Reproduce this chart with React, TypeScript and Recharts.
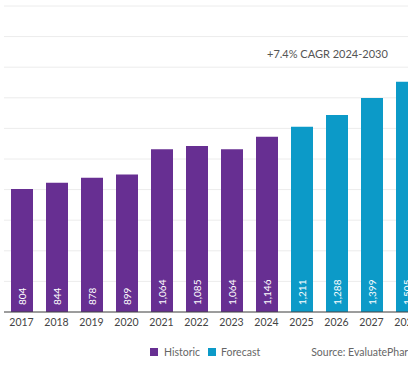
import { Bar, BarChart, CartesianGrid, LabelList, XAxis, YAxis } from "recharts";

// market size by year, historic then forecast
const years = ["2017", "2018", "2019", "2020", "2021", "2022", "2023", "2024", "2025", "2026", "2027", "2028"];
const historic = [804, 844, 878, 899, 1064, 1085, 1064, 1146, null, null, null, null];
const forecast = [null, null, null, null, null, null, null, null, 1211, 1288, 1399, 1505];
const yTicks = [0, 200, 400, 600, 800, 1000, 1200, 1400, 1600, 1800];

const PURPLE = "#672f92";
const BLUE = "#0c9ac8";
const FONT = "Lato, 'Noto Sans', sans-serif";

const data = years.map((year, i) => ({ year, historic: historic[i], forecast: forecast[i] }));

const fmt = (v: number) => v.toLocaleString("en-US");

function BarValue(props: any) {
  const { x, y, width, height, value } = props;
  if (value == null) return null;
  const cx = Number(x) + Number(width) / 2;
  const by = Number(y) + Number(height) - 7;
  return (
    <text
      x={cx}
      y={by}
      transform={`rotate(-90 ${cx} ${by})`}
      textAnchor="start"
      dominantBaseline="central"
      fill="#ffffff"
      fontSize={10}
      fontFamily={FONT}
    >
      {fmt(value)}
    </text>
  );
}

export default function App() {
  return (
    <div
      style={{
        position: "fixed",
        left: 0,
        top: 0,
        width: 408,
        height: 379,
        overflow: "hidden",
        background: "#fff",
        fontFamily: FONT,
      }}
    >
      <div style={{ position: "absolute", left: -10, top: 0 }}>
        <BarChart
          width={442}
          height={379}
          data={data}
          margin={{ top: 6, right: 8, left: 14, bottom: 37 }}
          barSize={22}
        >
          <CartesianGrid vertical={false} stroke="#ececec" />
          <YAxis hide domain={[0, 2000]} ticks={yTicks} width={0} />
          <XAxis
            dataKey="year"
            height={30}
            tickLine={false}
            tickSize={0}
            tickMargin={7}
            axisLine={{ stroke: "#444" }}
            tick={{ fill: "#444", fontSize: 10.5, fontFamily: FONT }}
            interval={0}
          />
          <Bar dataKey="historic" name="Historic" stackId="a" fill={PURPLE} isAnimationActive={false}>
            <LabelList dataKey="historic" content={BarValue} />
          </Bar>
          <Bar dataKey="forecast" name="Forecast" stackId="a" fill={BLUE} isAnimationActive={false}>
            <LabelList dataKey="forecast" content={BarValue} />
          </Bar>
        </BarChart>
      </div>

      <div
        style={{
          position: "absolute",
          left: 267,
          top: 47,
          fontSize: 11,
          color: "#555",
          whiteSpace: "nowrap",
        }}
      >
        +7.4% CAGR 2024-2030
      </div>

      <div
        style={{
          position: "absolute",
          left: 150,
          top: 346,
          display: "flex",
          alignItems: "center",
          fontSize: 10.5,
          color: "#666",
          whiteSpace: "nowrap",
        }}
      >
        <span style={{ width: 8, height: 8, background: PURPLE, marginRight: 6 }} />
        <span style={{ marginRight: 8 }}>Historic</span>
        <span style={{ width: 8, height: 8, background: BLUE, marginRight: 5 }} />
        <span>Forecast</span>
        <span style={{ marginLeft: 51 }}>Source: EvaluatePharma®</span>
      </div>
    </div>
  );
}
